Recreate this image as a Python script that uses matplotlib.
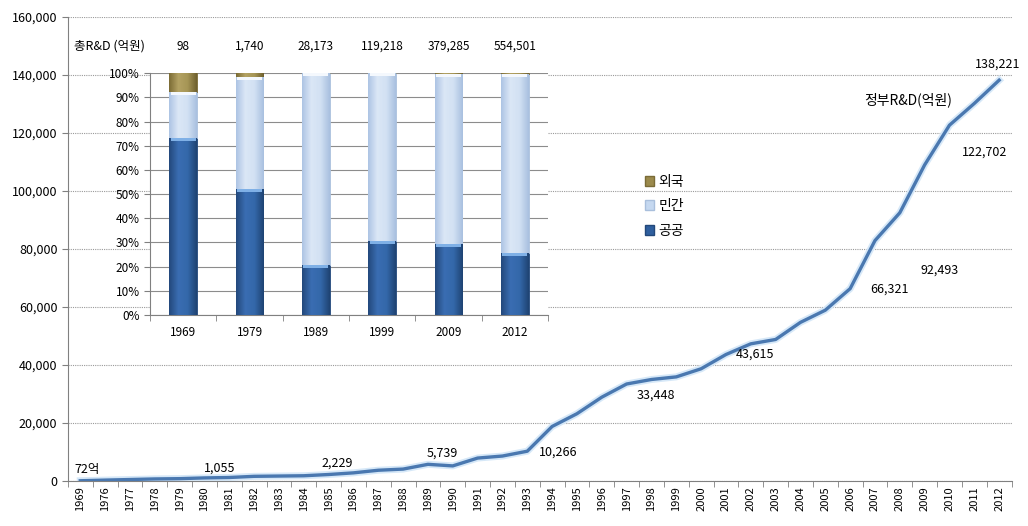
import matplotlib
matplotlib.use("Agg")
import matplotlib.pyplot as plt
import numpy as np
from matplotlib.ticker import FuncFormatter, MultipleLocator
from matplotlib.patches import Patch
from matplotlib.colors import LinearSegmentedColormap

plt.rcParams['font.family'] = ['Noto Sans CJK KR', 'DejaVu Sans']

# government R&D (억원)
years = ['1969'] + [str(y) for y in range(1976, 2013)]
gov_rnd = [72, 300, 500, 700, 800, 1055, 1200, 1600, 1700, 1800, 2229, 2800, 3700,
           4100, 5739, 5200, 7900, 8600, 10266, 18800, 23200, 28900, 33448, 35000,
           35900, 38700, 43615, 47300, 48800, 54700, 58900, 66321, 82900, 92493,
           109000, 122702, 130200, 138221]
# which points get a value label, and the text shown
point_labels = {'1969': '72억', '1980': '1,055', '1985': '2,229', '1989': '5,739',
                '1993': '10,266', '1997': '33,448', '2001': '43,615', '2006': '66,321',
                '2008': '92,493', '2010': '122,702', '2012': '138,221'}

# inset: share of total R&D by source (%)
bar_years = ['1969', '1979', '1989', '1999', '2009', '2012']
total_rnd = ['98', '1,740', '28,173', '119,218', '379,285', '554,501']
public = [73.0, 52.0, 20.5, 30.5, 29.5, 25.5]
private = [19.0, 46.5, 79.5, 69.4, 70.3, 74.2]
foreign = [8.0, 1.5, 0.0, 0.1, 0.2, 0.3]

fig = plt.figure(figsize=(10.28, 5.26), dpi=100)
ax = fig.add_axes([0.066, 0.0856, 0.918, 0.882])

x = list(range(len(years)))
ax.plot(x, gov_rnd, color='#d6e8f8', lw=5, solid_joinstyle='round', zorder=2)
ax.plot(x, gov_rnd, color='#4a78b0', lw=2.4, solid_joinstyle='round', zorder=3)

ax.set_xlim(-0.5, len(years) - 0.5)
ax.set_ylim(0, 160000)
ax.yaxis.set_major_locator(MultipleLocator(20000))
ax.yaxis.set_major_formatter(FuncFormatter(lambda v, p: f'{int(v):,}'))
ax.grid(axis='y', color='#9a9a9a', ls=(0, (1, 1)), lw=0.8)
ax.set_axisbelow(True)
ax.set_xticks(x)
ax.set_xticklabels(years, rotation=90, fontsize=8)
ax.set_xticks([i - 0.5 for i in range(len(years) + 1)], minor=True)
ax.tick_params(axis='x', which='major', length=0, pad=4)
ax.tick_params(axis='x', which='minor', length=4, color='#808080')
ax.tick_params(axis='y', labelsize=9, length=4, color='#808080')
for s in ['top', 'right']:
    ax.spines[s].set_visible(False)
for s in ['left', 'bottom']:
    ax.spines[s].set_color('#808080')

# label offsets in pixels from the point
offsets = {'1969': (7, 11), '1980': (15, 10), '1985': (9, 11), '1989': (14, 11),
           '1993': (31, -1), '1997': (29, -11), '2001': (29, 0),
           '2006': (39, 0), '2008': (40, -57), '2010': (35, -27), '2012': (-1, 16)}
for yr, txt in point_labels.items():
    i = years.index(yr)
    ax.annotate(txt, (i, gov_rnd[i]), xytext=offsets[yr], textcoords='offset pixels',
                ha='center', va='center', fontsize=9)
ax.text(33.35, 131400, '정부R&D(억원)', fontsize=10, ha='center', va='center')

# inset 100% stacked bars
ins = fig.add_axes([0.146, 0.401, 0.387, 0.46])
bx = list(range(len(bar_years)))
w = 0.42
bot = [a + b for a, b in zip(public, private)]
b1 = ins.bar(bx, public, w, color='#2f5f9e', edgecolor='#23487a', lw=0.6, zorder=3)
b2 = ins.bar(bx, private, w, bottom=public, color='#c5d8f0', edgecolor='#a9bfdc',
             lw=0.6, zorder=3)
b3 = ins.bar(bx, foreign, w, bottom=bot, color='#9b8a4c', edgecolor='#7a6b37',
             lw=0.6, zorder=3)

# horizontal gradient inside each bar, like the original 3d look
grads = [(b1, ['#23487c', '#3a6db2', '#3468aa', '#1f4373']),
         (b2, ['#adc4e4', '#dbe7f6', '#d2e1f3', '#a9c0e0']),
         (b3, ['#7c6c35', '#b3a263', '#a69656', '#6f602e'])]
ramp = np.linspace(0, 1, 64).reshape(1, -1)
for cont, cols in grads:
    cmap = LinearSegmentedColormap.from_list('g', cols)
    for p in cont:
        if p.get_height() <= 0:
            continue
        x0, y0 = p.get_x(), p.get_y()
        im = ins.imshow(ramp, cmap=cmap, aspect='auto', zorder=3.5,
                        extent=(x0, x0 + p.get_width(), y0, y0 + p.get_height()))
        im.set_clip_path(p)

# light band on top of each segment
for i in bx:
    ins.bar(i, 1.2, w * 0.9, bottom=public[i] - 1.2, color='#7fb0e6', lw=0, zorder=4)
    ins.bar(i, 1.2, w * 0.9, bottom=bot[i] - 1.2, color='#f4f8fd', lw=0, zorder=4)

ins.set_xlim(-0.5, len(bar_years) - 0.5)
ins.set_ylim(0, 100)
ins.yaxis.set_major_locator(MultipleLocator(10))
ins.yaxis.set_major_formatter(FuncFormatter(lambda v, p: f'{int(v)}%'))
ins.grid(axis='y', color='#8c8c8c', lw=0.8)
ins.set_axisbelow(True)
ins.set_xticks(bx)
ins.set_xticklabels(bar_years, fontsize=8.5)
ins.set_xticks([i - 0.5 for i in range(len(bar_years) + 1)], minor=True)
ins.tick_params(axis='x', which='major', length=0, pad=8)
ins.tick_params(axis='x', which='minor', length=4, color='#808080')
ins.tick_params(axis='y', labelsize=8.5, length=4, color='#808080')
for s in ['top', 'right']:
    ins.spines[s].set_visible(False)
for s in ['left', 'bottom']:
    ins.spines[s].set_color('#808080')

ins.text(-0.19, 1.11, '총R&D (억원)', transform=ins.transAxes, fontsize=9,
         ha='left', va='center')
for i, t in enumerate(total_rnd):
    ins.text(i, 111, t, fontsize=8.5, ha='center', va='center')

handles = [Patch(facecolor='#9b8a4c', edgecolor='#7a6b37'),
           Patch(facecolor='#c5d8f0', edgecolor='#a9bfdc'),
           Patch(facecolor='#2f5f9e', edgecolor='#23487a')]
fig.legend(handles, ['외국', '민간', '공공'], loc='center left',
           bbox_to_anchor=(0.615, 0.608), frameon=False, fontsize=10,
           handlelength=0.7, handleheight=0.7, handletextpad=0.3, labelspacing=0.75)

fig.savefig('out.png', dpi=100)
